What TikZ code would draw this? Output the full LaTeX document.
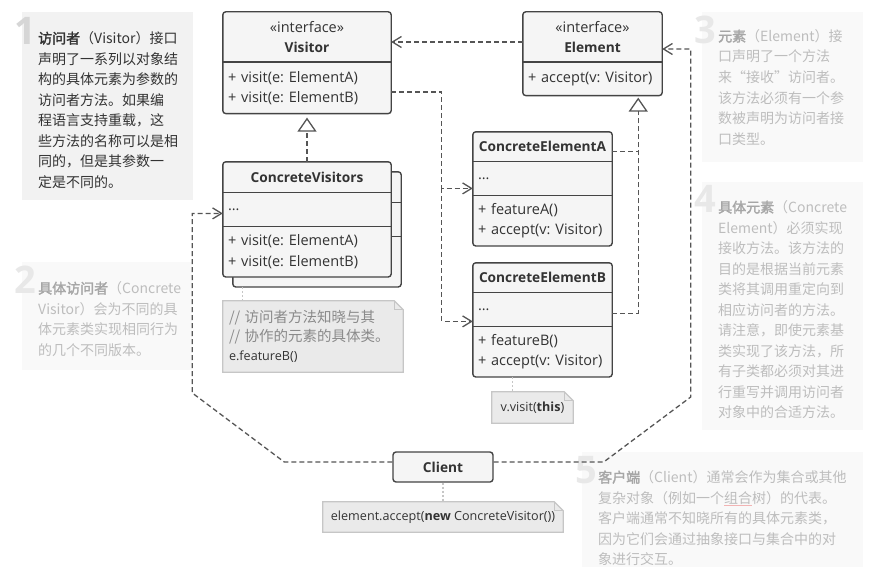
\documentclass[tikz,border=0pt]{standalone}
\usepackage{fontspec}
\setmainfont{Open Sans}
\newfontfamily\cjk{Noto Sans CJK SC}[AutoFakeBold=2]
\usetikzlibrary{positioning, arrows.meta, calc, backgrounds}
\frenchspacing

\definecolor{boxline}{HTML}{444444}
\definecolor{boxfill}{HTML}{F5F5F5}
\definecolor{depline}{HTML}{555555}
\definecolor{notefill}{HTML}{EAEAEA}
\definecolor{noteline}{HTML}{C6C6C6}
\definecolor{hintbg}{HTML}{F2F2F2}
\definecolor{fadebg}{HTML}{F9F9F9}
\definecolor{fadetext}{HTML}{BDBDBD}
\definecolor{fadebold}{HTML}{A6A6A6}
\definecolor{numgray}{HTML}{D6D6D6}
\definecolor{numfade}{HTML}{E8E8E8}
\definecolor{darktext}{HTML}{333333}
\definecolor{commtext}{HTML}{8A8A8A}
\definecolor{linkred}{HTML}{F2B4B4}

\newcommand{\keyword}[1]{{\bfseries\color{fadebold}#1}}

\begin{document}
\begin{tikzpicture}[x=1pt, y=-1pt,
  part/.style={inner xsep=5pt, inner ysep=0pt, text width=#1, align=left, text=darktext, font=\fontsize{14.5}{20.5}\selectfont},
  head/.style={part=#1, align=center},
  boldhead/.style={head=#1, font=\bfseries\fontsize{13.7}{20.5}\selectfont},
  umlbox/.style={draw=boxline, fill=boxfill, line width=1.4pt, rounded corners=3pt},
  divider/.style={draw=boxline, line width=1.4pt},
  dep/.style={draw=depline, line width=1.3pt, dash pattern=on 5pt off 3pt},
  toarrow/.style={-{Straight Barb[length=9pt, width=11pt, line width=1.3pt]}},
  isarrow/.style={-{Triangle[length=14pt, width=19pt, line width=1.3pt, fill=white]}},
  hintline/.style={draw=noteline, line width=1.2pt, dash pattern=on 2pt off 2pt},
  notebox/.style={draw=noteline, fill=notefill, line width=1.2pt},
  notetext/.style={inner xsep=6pt, inner ysep=0pt, align=left, text=darktext, font=\fontsize{12.6}{19}\selectfont},
  bignum/.style={inner sep=0pt, font=\bfseries\fontsize{38}{38}\selectfont},
  hint/.style={anchor=base west, inner sep=0pt, align=left, text=fadetext, font=\cjk\fontsize{14}{20.5}\selectfont}]
\useasboundingbox (0,0) rectangle (888,567);

% hints (anchored at the baseline of the last line)
\fill[hintbg] (22,12) rectangle (193,200);
\fill[fadebg] (22,262) rectangle (192,370);
\fill[fadebg] (702,12) rectangle (863,162);
\fill[fadebg] (702,182) rectangle (863,430);
\fill[fadebg] (582,452) rectangle (863,567);
\node[bignum, text=numgray] (num1) at (25,31) {1};
\node[bignum, text=numfade] (num2) at (25,280) {2};
\node[bignum, text=numfade] (num3) at (705,30) {3};
\node[bignum, text=numfade] (num4) at (705,199) {4};
\node[bignum, text=numfade] (num5) at (586,470) {5};
\node[hint, text=darktext] (hint1) at (38,187) {\textbf{访问者}（Visitor）接口\\声明了一系列以对象结\\构的具体元素为参数的\\访问者方法。如果编\\程语言支持重载，这\\些方法的名称可以是相\\同的，但是其参数一\\定是不同的。};
\node[hint] (hint2) at (38,355) {\keyword{具体访问者}（Concrete\\Visitor）会为不同的具\\体元素类实现相同行为\\的几个不同版本。};
\node[hint] (hint3) at (718,144) {\keyword{元素}（Element）接\\口声明了一个方法\\来“接收”访问者。\\该方法必须有一个参\\数被声明为访问者接\\口类型。};
\node[hint] (hint4) at (718,417.5) {\keyword{具体元素}（Concrete\\Element）必须实现\\接收方法。该方法的\\目的是根据当前元素\\类将其调用重定向到\\相应访问者的方法。\\请注意，即使元素基\\类实现了该方法，所\\有子类都必须对其进\\行重写并调用访问者\\对象中的合适方法。};
\node[hint] (hint5) at (598,564.5) {\keyword{客户端}（Client）通常会作为集合或其他\\复杂对象（例如一个{\color{linkred}$\underline{\hbox{\color{fadetext}组合}}$}树）的代表。\\客户端通常不知晓所有的具体元素类，\\因为它们会通过抽象接口与集合中的对\\象进行交互。};

% Visitor
\node[head=158pt, minimum height=50pt] (visH) at (307,37) {«interface»\\{\bfseries\fontsize{13.7}{20.5}\selectfont Visitor}};
\node[part=158pt, minimum height=51pt, below=0pt of visH] (visM) {+ visit(e: ElementA)\\+ visit(e: ElementB)};
% ConcreteVisitors
\node[boldhead=158pt, minimum height=30pt] (cvH) at (307,177) {ConcreteVisitors};
\node[part=158pt, minimum height=34pt, below=0pt of cvH] (cvF) {...};
\node[part=158pt, minimum height=50pt, below=0pt of cvF] (cvM) {+ visit(e: ElementA)\\+ visit(e: ElementB)};
% Element
\node[head=129pt, minimum height=50pt] (eleH) at (592.5,37) {«interface»\\{\bfseries\fontsize{13.7}{20.5}\selectfont Element}};
\node[part=129pt, minimum height=33pt, below=0pt of eleH] (eleM) {+ accept(v: Visitor)};
% ConcreteElementA
\node[boldhead=129pt, minimum height=29pt] (ceaH) at (542.5,146.5) {ConcreteElementA};
\node[part=129pt, minimum height=34pt, below=0pt of ceaH] (ceaF) {...};
\node[part=129pt, minimum height=50pt, below=0pt of ceaF] (ceaM) {+ featureA()\\+ accept(v: Visitor)};
% ConcreteElementB
\node[boldhead=129pt, minimum height=29pt] (cebH) at (542.5,277.5) {ConcreteElementB};
\node[part=129pt, minimum height=34pt, below=0pt of cebH] (cebF) {...};
\node[part=129pt, minimum height=50pt, below=0pt of cebF] (cebM) {+ featureB()\\+ accept(v: Visitor)};
% Client
\node[umlbox, minimum width=100pt, minimum height=30pt, text=darktext, font=\bfseries\fontsize{13.7}{15}\selectfont] (cli) at (443,467) {Client};

% notes
\node[notetext, minimum width=180pt, minimum height=71pt, text width=168pt] (visNote) at (313,336.5) {{\cjk\fontsize{14.5}{19.5}\selectfont\color{commtext}// 访问者方法知晓与其\\// 协作的元素的具体类。}\\e.featureB()};
\node[notetext, minimum width=81pt, minimum height=31pt] (elNote) at (532.5,407.5) {v.visit(\textbf{this})};
\node[notetext, minimum width=240pt, minimum height=30pt] (cliNote) at (443,517) {element.accept(\textbf{new} ConcreteVisitor())};

\begin{pgfonlayer}{background}
\draw[umlbox] (visH.north west) rectangle (visM.south east);
\draw[umlbox] ($(cvH.north west)+(10,10)$) rectangle ($(cvM.south east)+(10,10)$);
\draw[divider] ($(cvF.north west)+(10,10)$) -- ($(cvF.north east)+(10,10)$);
\draw[divider] ($(cvM.north west)+(10,10)$) -- ($(cvM.north east)+(10,10)$);
\draw[umlbox] (cvH.north west) rectangle (cvM.south east);
\draw[umlbox] (eleH.north west) rectangle (eleM.south east);
\draw[umlbox] (ceaH.north west) rectangle (ceaM.south east);
\draw[umlbox] (cebH.north west) rectangle (cebM.south east);
\foreach \n in {visNote, elNote, cliNote} {
  \draw[notebox] (\n.north west) -- ($(\n.north east)+(-9,0)$) -- ($(\n.north east)+(0,9)$) -- (\n.south east) -- (\n.south west) -- cycle;
  \draw[draw=noteline, line width=1.2pt] ($(\n.north east)+(-9,0)$) |- ($(\n.north east)+(0,9)$);
}
\end{pgfonlayer}
\draw[divider] (visH.south west) -- (visH.south east);
\draw[divider] (cvH.south west) -- (cvH.south east);
\draw[divider] (cvF.south west) -- (cvF.south east);
\draw[divider] (eleH.south west) -- (eleH.south east);
\draw[divider] (ceaH.south west) -- (ceaH.south east);
\draw[divider] (ceaF.south west) -- (ceaF.south east);
\draw[divider] (cebH.south west) -- (cebH.south east);
\draw[divider] (cebF.south west) -- (cebF.south east);

% note links
\draw[hintline] ($(cvM.south west)+(20,10)$) -- ($(visNote.north west)+(20,0)$);
\draw[hintline] ($(cebM.south west)+(40,0)$) -- ($(elNote.north west)+(21,0)$);
\draw[hintline] (cli.south) -- (cliNote.north);

% dependencies
\draw[dep, toarrow] ($(eleH.west)+(0,5)$) -- ($(visH.east)+(0,5)$);
\coordinate (vsplit) at ($(ceaF.west)+(-31,10)$);
\draw[dep, toarrow] ($(visM.east)+(0,4)$) -| (vsplit) -- ($(ceaF.west)+(0,10)$);
\draw[dep, toarrow] (vsplit) |- ($(cebF.west)+(0,12)$);
\draw[dep, toarrow] ($(cli.west)+(0,-5)$) -- ++(-108,0) -- ++(-92,-69) |- ($(cvF.west)+(0,4)$);
\draw[dep, toarrow] ($(cli.east)+(0,-5)$) -- ++(110,0) -- ++(87,-65) |- ($(eleH.east)+(0,12)$);

% inheritance
\draw[dep, isarrow] (cvH.north) -- ($(visM.south)+(0,4)$);
\coordinate (eleTip) at ($(eleM.south east)+(-24,2)$);
\draw[dep, isarrow] ($(cebF.east)+(0,4)$) -| (eleTip);
\draw[dep] ($(ceaH.east)+(0,5)$) -- ($(ceaH.east)+(26,5)$);
\end{tikzpicture}
\end{document}
